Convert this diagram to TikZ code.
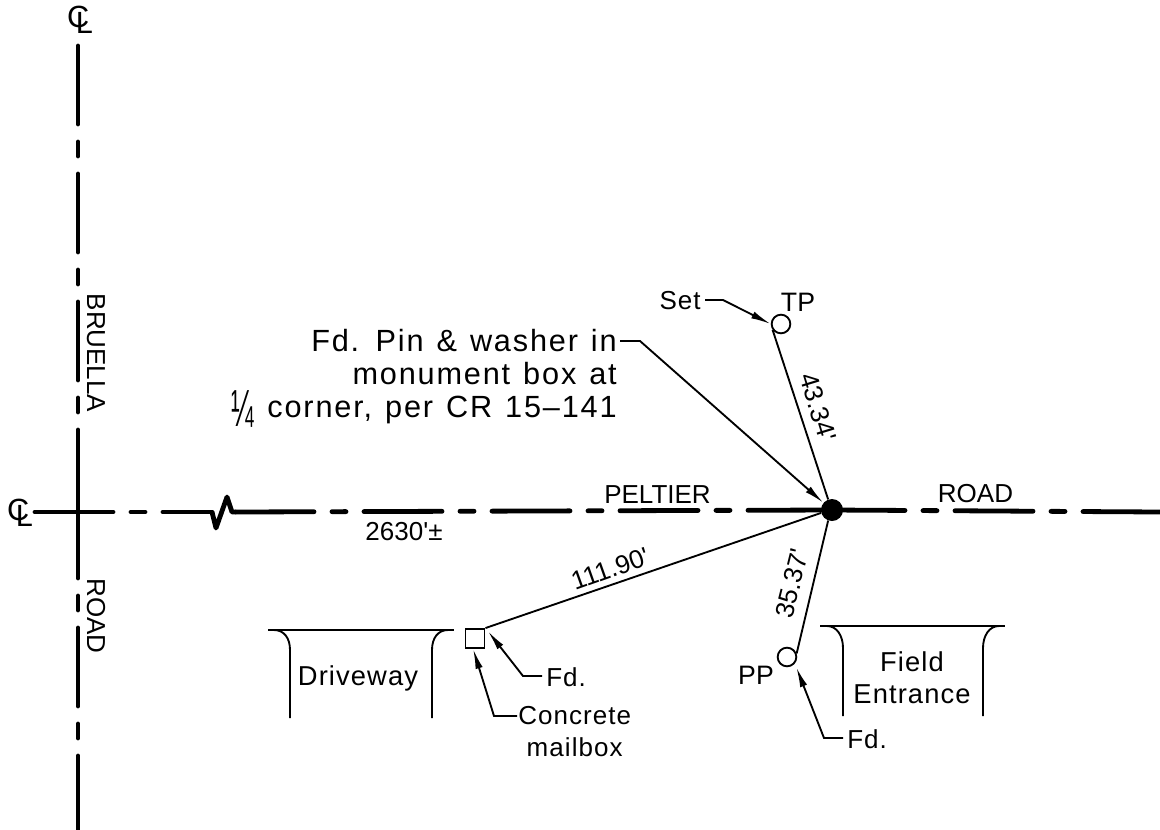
\documentclass[tikz,border=0pt]{standalone}
\usepackage{fontspec}
\setmainfont{Liberation Sans}
\newfontfamily\widefont[LetterSpace=6,WordSpace=1.25]{Liberation Sans}
\newfontfamily\midfont[LetterSpace=4]{Liberation Sans}
\usetikzlibrary{arrows.meta,calc,positioning}
\tikzstyle{line} = [draw, line width=1.4pt, -{Latex[length=15pt,width=5.5pt]}]
\tikzstyle{thin line} = [draw, line width=1.4pt]
\tikzstyle{road} = [draw, line width=3.6pt, line cap=round, dash pattern=on 58.5pt off 13.5pt on 10.5pt off 13.5pt]
\tikzstyle{plain label} = [inner sep=0pt, font=\fontsize{19.5}{23}\selectfont]
\tikzstyle{mid label} = [inner sep=0pt, align=center, font=\fontsize{19.5}{24}\midfont]
\tikzstyle{big label} = [inner sep=0pt, align=center, font=\fontsize{20.5}{24}\midfont]
\tikzstyle{wide label} = [inner sep=0pt, align=right, font=\fontsize{23}{24.75}\widefont]
\tikzstyle{open point} = [circle, draw=black, line width=1.4pt, minimum size=14pt, inner sep=0pt]
\newcommand{\CL}{\makebox[0pt][l]{C}\kern 0.29em\raisebox{-0.2em}{L}}
\newcommand{\Quarter}{\smash{\raisebox{-7pt}{\scalebox{0.88}[1.7]{¼}}}}

\begin{document}
\begin{tikzpicture}[x=0.75pt, y=-0.75pt]
\useasboundingbox (0,0) rectangle (1160,829);

\node (nodeclnorth) [plain label, font=\fontsize{23}{23}\selectfont] at (80,20) {\CL};
\node (nodeclwest) [plain label, font=\fontsize{23}{23}\selectfont] at (20,513) {\CL};

\coordinate (northa) at (78,46);
\coordinate (northb) at (78,413);
\coordinate (southa) at (78,430);
\coordinate (southb) at (78,829);
\coordinate (westa) at (35,512);
\coordinate (westb) at (212,512);
\coordinate (zigb) at (216,528);
\coordinate (zigc) at (227,497);
\coordinate (westc) at (236,512);
\coordinate (easta) at (1160,512);

\node (nodepin) [circle, fill=black, minimum size=16.5pt, inner sep=0pt] at (832,510) {};
\node (nodetp) [open point] at (781,324) {};
\node (nodepp) [open point] at (787,657) {};
\node (nodebox) [rectangle, draw=black, line width=1.2pt, minimum size=14.5pt, inner sep=0pt] at (475,638.5) {};

\path [road] (northa) -- (northb);
\path [road, dash pattern=on 111pt off 13.5pt on 10.5pt off 13.5pt on 58.5pt off 13.5pt on 10.5pt off 13.5pt on 58.5pt off 13.5pt] (southa) -- (southb);
\path [road] (westa) -- (westb);
\path [draw, line width=3.6pt, line join=round] (westb) -- (zigb) -- (zigc) -- (232,512) -- (westc);
\path [road] (westc) -- (nodepin.center);
\path [road, dash pattern=on 54.75pt off 13.5pt on 10.5pt off 13.5pt on 58.5pt off 13.5pt on 10.5pt off 13.5pt on 58.5pt off 13.5pt] (nodepin.center) -- (easta);

\node (nodebruella) [plain label, rotate=-90] at (96,353) {BRUELLA};
\node (noderoadsouth) [plain label, rotate=-90] at (96,616) {ROAD};
\node (nodepeltier) [plain label] at (657.5,495) {PELTIER};
\node (noderoadeast) [plain label] at (975.5,494) {ROAD};
\node (nodedistance) [plain label] at (404,532) {2630\textquotesingle±};

\node (nodefdpin) [wide label, anchor=north east] at (617,329) {Fd. Pin \& washer in\\monument box at\\\Quarter{} corner, per CR 15–141};
\coordinate (fdpinstart) at (620,341);
\coordinate (fdpinelbow) at (640,341);
\path [line] (fdpinstart) -- (fdpinelbow) -- (nodepin.140);

\node (nodeset) [mid label, anchor=east] at (701,301) {Set};
\coordinate (setstart) at (705,300);
\coordinate (setelbow) at (723,300);
\path [line] (setstart) -- (setelbow) -- (nodetp.west);
\node (nodetplabel) [plain label, font=\fontsize{20}{23}\selectfont] at (798,302) {TP};
\path [thin line] (nodetp.215) -- (nodepin.110);
\node (node4334) [plain label, rotate=-73] at (818,407) {43.34\textquotesingle};

\path [thin line] (nodepp.20) -- (nodepin.250);
\node (node3537) [plain label, rotate=76] at (792,583) {35.37\textquotesingle};
\node (nodepplabel) [plain label, font=\fontsize{20}{23}\selectfont] at (756,675) {PP};
\coordinate (ppstart) at (843,738);
\coordinate (ppelbow) at (824,738);
\path [line, shorten >=3pt] (ppstart) -- (ppelbow) -- (nodepp.-40);
\node (nodeppfd) [mid label, anchor=west] at (847,739) {Fd.};

\path [thin line] (nodebox.north east) -- (nodepin.195);
\node (node11190) [plain label, rotate=19.6] at (610,569) {111.90\textquotesingle};

\coordinate (boxfdstart) at (542,676);
\coordinate (boxfdelbow) at (523,676);
\path [line, shorten >=3pt] (boxfdstart) -- (boxfdelbow) -- (nodebox.north east);
\node (nodeboxfd) [mid label, anchor=west] at (546,677) {Fd.};
\coordinate (boxcrstart) at (517,716);
\coordinate (boxcrelbow) at (494,716);
\path [line] (boxcrstart) -- (boxcrelbow) -- (nodebox.-100);
\node (nodeboxcr) [mid label, anchor=west] at (518,732) {Concrete\\mailbox};

\coordinate (drivea) at (268,630);
\coordinate (driveb) at (454,630);
\coordinate (drivec) at (290,718);
\coordinate (drived) at (432,718);
\path [thin line] (drivea) -- (driveb);
\path [thin line] (drivec) -- (290,650) .. controls (290,638) and (284,630) .. (274,630);
\path [thin line] (drived) -- (432,650) .. controls (432,638) and (438,630) .. (448,630);
\node (nodedriveway) [big label] at (358,678) {Driveway};

\coordinate (fielda) at (820,626);
\coordinate (fieldb) at (1005,626);
\coordinate (fieldc) at (843,716);
\coordinate (fieldd) at (983,716);
\path [thin line] (fielda) -- (fieldb);
\path [thin line] (fieldc) -- (843,648) .. controls (843,636) and (837,626) .. (827,626);
\path [thin line] (fieldd) -- (983,648) .. controls (983,636) and (989,626) .. (999,626);
\node (nodefield) [big label] at (912,678) {Field\\Entrance};

\end{tikzpicture}
\end{document}
